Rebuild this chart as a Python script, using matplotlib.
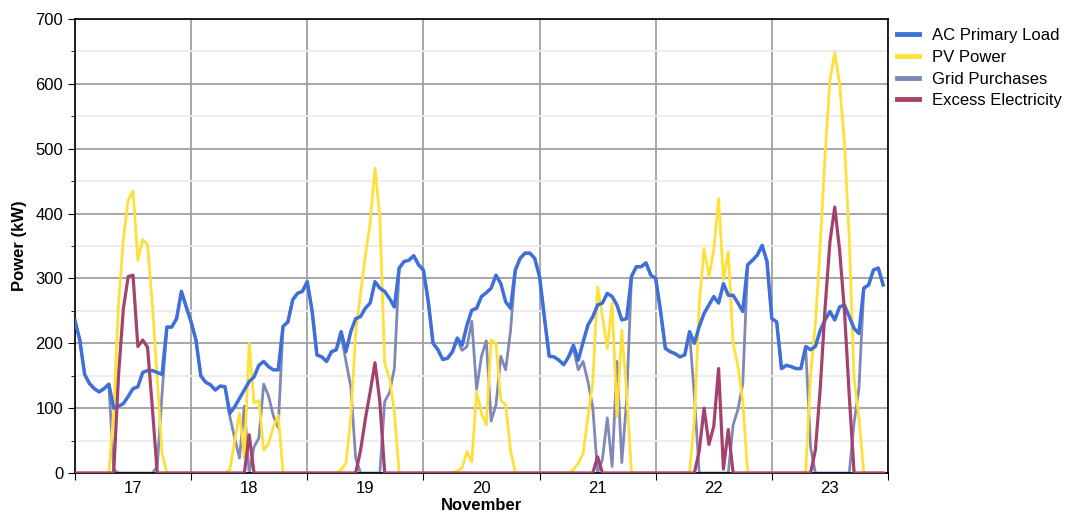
import numpy as np
import matplotlib
matplotlib.use("Agg")
import matplotlib.pyplot as plt
from matplotlib.ticker import FixedLocator, MultipleLocator

plt.rcParams['font.family'] = ['Liberation Sans', 'DejaVu Sans']

# hourly values, 17-23 November (one row per day)
load = [
    235, 205, 152, 138, 130, 125, 130, 137, 100, 103, 107, 118, 130, 133, 155, 158, 158, 155, 152, 225, 225, 238, 280, 256,
    233, 205, 150, 140, 136, 128, 134, 133, 92, 102, 115, 128, 141, 148, 166, 172, 164, 159, 159, 226, 233, 267, 277, 280,
    295, 250, 182, 179, 172, 187, 190, 218, 187, 218, 238, 241, 254, 262, 295, 285, 280, 269, 256, 316, 326, 328, 335, 321,
    313, 265, 200, 190, 175, 177, 187, 208, 197, 228, 251, 254, 272, 278, 285, 305, 292, 264, 254, 313, 331, 339, 339, 331,
    303, 240, 180, 179, 174, 167, 179, 197, 174, 202, 228, 241, 259, 262, 277, 272, 259, 236, 238, 303, 318, 318, 324, 305,
    300, 250, 192, 187, 184, 179, 182, 218, 200, 226, 246, 259, 272, 262, 292, 274, 274, 262, 249, 321, 328, 336, 351, 326,
    238, 233, 161, 166, 164, 161, 161, 195, 190, 195, 220, 236, 249, 236, 256, 259, 241, 223, 215, 285, 290, 313, 316, 290,
]
pv = [
    0, 0, 0, 0, 0, 0, 0, 0, 95, 260, 360, 421, 435, 328, 360, 352, 260, 145, 30, 0, 0, 0, 0, 0,
    0, 0, 0, 0, 0, 0, 0, 0, 5, 48, 92, 25, 200, 108, 112, 35, 45, 71, 89, 0, 0, 0, 0, 0,
    0, 0, 0, 0, 0, 0, 0, 5, 15, 85, 215, 275, 335, 385, 470, 395, 170, 145, 95, 0, 0, 0, 0, 0,
    0, 0, 0, 0, 0, 0, 0, 3, 8, 33, 17, 125, 92, 74, 205, 200, 112, 105, 35, 0, 0, 0, 0, 0,
    0, 0, 0, 0, 0, 0, 0, 5, 15, 30, 87, 140, 287, 241, 192, 262, 87, 220, 125, 0, 0, 0, 0, 0,
    0, 0, 0, 0, 0, 0, 0, 2, 82, 260, 346, 303, 344, 423, 298, 341, 200, 164, 111, 0, 0, 0, 0, 0,
    0, 0, 0, 0, 0, 0, 0, 2, 150, 230, 350, 490, 605, 648, 600, 510, 360, 145, 85, 0, 0, 0, 0, 0,
]
grid = [
    235, 205, 152, 138, 130, 125, 130, 137, 5, 0, 0, 0, 0, 0, 0, 0, 0, 10, 122, 225, 225, 238, 280, 256,
    233, 205, 150, 140, 136, 128, 134, 133, 87, 54, 23, 103, 0, 40, 54, 137, 119, 88, 70, 226, 233, 267, 277, 280,
    295, 250, 182, 179, 172, 187, 190, 213, 172, 133, 23, 0, 0, 0, 0, 0, 110, 124, 161, 316, 326, 328, 335, 321,
    313, 265, 200, 190, 175, 177, 187, 205, 189, 195, 234, 129, 180, 204, 80, 105, 180, 159, 219, 313, 331, 339, 339, 331,
    303, 240, 180, 179, 174, 167, 179, 192, 159, 172, 141, 101, 0, 21, 85, 10, 172, 16, 113, 303, 318, 318, 324, 305,
    300, 250, 192, 187, 184, 179, 182, 216, 118, 0, 0, 0, 0, 0, 0, 0, 74, 98, 138, 321, 328, 336, 351, 326,
    238, 233, 161, 166, 164, 161, 161, 193, 40, 0, 0, 0, 0, 0, 0, 0, 0, 78, 130, 285, 290, 313, 316, 290,
]
excess = [
    0, 0, 0, 0, 0, 0, 0, 0, 0, 150, 253, 303, 305, 195, 205, 194, 100, 0, 0, 0, 0, 0, 0, 0,
    0, 0, 0, 0, 0, 0, 0, 0, 0, 0, 0, 0, 59, 0, 0, 0, 0, 0, 0, 0, 0, 0, 0, 0,
    0, 0, 0, 0, 0, 0, 0, 0, 0, 0, 0, 34, 83, 125, 170, 110, 0, 0, 0, 0, 0, 0, 0, 0,
    0, 0, 0, 0, 0, 0, 0, 0, 0, 0, 0, 0, 0, 0, 0, 0, 0, 0, 0, 0, 0, 0, 0, 0,
    0, 0, 0, 0, 0, 0, 0, 0, 0, 0, 0, 0, 25, 0, 0, 0, 0, 0, 0, 0, 0, 0, 0, 0,
    0, 0, 0, 0, 0, 0, 0, 0, 0, 34, 100, 44, 72, 161, 6, 67, 0, 0, 0, 0, 0, 0, 0, 0,
    0, 0, 0, 0, 0, 0, 0, 0, 0, 35, 130, 254, 356, 410, 344, 251, 119, 0, 0, 0, 0, 0, 0, 0,
]
days = [17, 18, 19, 20, 21, 22, 23]

t = days[0] + np.arange(len(load)) / 24.0  # time in days

fig = plt.figure(figsize=(10.8, 5.14), dpi=100)
ax = fig.add_axes([0.0694, 0.0798, 0.7528, 0.8832])

# blue sits on top of grey where grid purchases equal the load
ax.plot(t, load, color='#3F6FD8', lw=2.5, label='AC Primary Load', zorder=4)
ax.plot(t, pv, color='#FFE03A', lw=2.0, label='PV Power', zorder=3)
ax.plot(t, grid, color='#8088B8', lw=2.0, label='Grid Purchases', zorder=2)
ax.plot(t, excess, color='#A3426B', lw=2.3, label='Excess Electricity', zorder=5)

ax.set_xlim(days[0], days[-1] + 1)
ax.set_ylim(0, 700)

# day boundaries get ticks and grid, labels sit at noon
ax.xaxis.set_major_locator(FixedLocator(range(days[0], days[-1] + 2)))
ax.xaxis.set_minor_locator(FixedLocator([d + 0.5 for d in days]))
ax.set_xticklabels([])
ax.set_xticklabels([str(d) for d in days], minor=True)
ax.tick_params(axis='x', which='minor', length=0, pad=6, labelsize=12)
ax.tick_params(axis='x', which='major', length=5, direction='out')

ax.yaxis.set_major_locator(MultipleLocator(100))
ax.yaxis.set_minor_locator(MultipleLocator(50))
ax.tick_params(axis='y', which='major', length=5, labelsize=12)
ax.tick_params(axis='y', which='minor', length=3)

ax.grid(True, which='major', axis='x', color='#a0a0a0', lw=1.3)
ax.grid(True, which='major', axis='y', color='#a0a0a0', lw=1.3)
ax.grid(True, which='minor', axis='y', color='#ececec', lw=1.3)
ax.set_axisbelow(True)

ax.set_ylabel('Power (kW)', fontsize=12, fontweight='bold', labelpad=6)
ax.set_xlabel('November', fontsize=12, fontweight='bold', labelpad=1)

for s in ax.spines.values():
    s.set_linewidth(1.2)

leg = ax.legend(loc='upper left', bbox_to_anchor=(1.0, 1.0), frameon=False,
                fontsize=12, handlelength=1.3, handletextpad=0.8,
                labelspacing=0.4, borderaxespad=0.15)
for h in leg.get_lines():
    h.set_linewidth(3.5)

fig.savefig('out.png', dpi=100)
